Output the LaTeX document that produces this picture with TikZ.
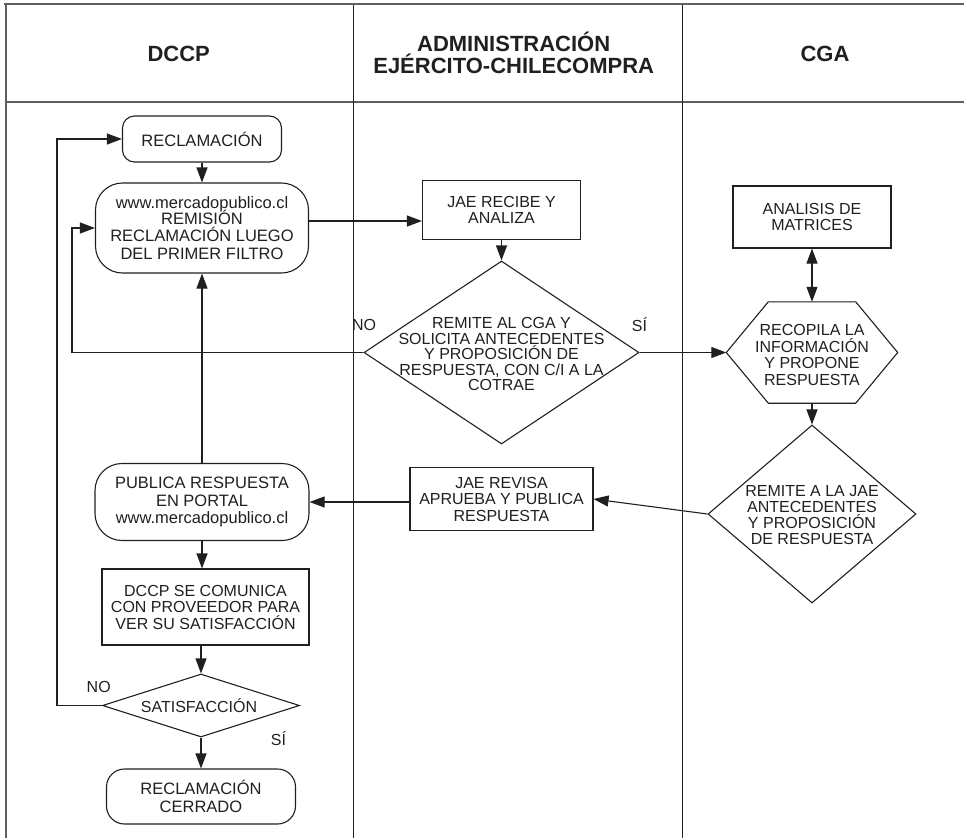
\documentclass[tikz,border=0pt]{standalone}
\usepackage{fontspec}
\setmainfont{Liberation Sans}
\usetikzlibrary{arrows.meta,shapes.geometric}
\definecolor{ink}{HTML}{231F20}
\definecolor{framegray}{HTML}{5F5F5F}
\begin{document}
\begin{tikzpicture}[x=1pt,y=-1pt,
  every node/.style={text=ink, inner sep=0pt},
  bodyfont/.style={font=\fontsize{16}{16.5}\selectfont},
  leftfont/.style={font=\fontsize{16.5}{17.5}\selectfont},
  box/.style={draw=ink, line width=1.1pt, fill=white, align=center, bodyfont},
  rbox/.style={box, leftfont, rounded corners=#1},
  dmd/.style={diamond, draw=ink, line width=1.1pt, fill=white, inner sep=0pt},
  arr/.style={draw=ink, line width=1.1pt, -{Triangle[length=15pt,width=11pt]}},
  dblarr/.style={draw=ink, line width=1.1pt, {Triangle[length=15pt,width=11pt]}-{Triangle[length=15pt,width=11pt]}},
  lbl/.style={font=\fontsize{16}{16}\selectfont},
  hdr/.style={font=\fontsize{22}{21.5}\selectfont\bfseries, align=center},
  framel/.style={draw=framegray, line width=2pt},
  divider/.style={draw=ink, line width=0.9pt}
]
\useasboundingbox (0,0) rectangle (964,838);

% frame
\draw[framel] (4,4) -- (964,4);
\draw[framel] (6,4) -- (6,838);
\draw[framel] (6,102) -- (964,102);
\draw[divider] (353,5) -- (353,838);
\draw[divider] (682,5) -- (682,838);

% headers
\node[hdr] (hd1) at (178.7,53.5) {DCCP};
\node[hdr] (hd2) at (513.7,53) {ADMINISTRACIÓN\\EJÉRCITO-CHILECOMPRA};
\node[hdr] (hd3) at (825,53.5) {CGA};

% helper coordinates
\coordinate (loopA) at (72,0);
\coordinate (loopB) at (57,0);
\coordinate (h1) at (0,221);

% left column
\node[rbox=12pt, minimum width=159pt, minimum height=46pt] (rec) at (202,139) {RECLAMACIÓN};
\node[rbox=27pt, minimum width=213pt, minimum height=90pt] (www) at (202,228)
  {www.mercadopublico.cl\\[-3pt]REMISIÓN\\RECLAMACIÓN LUEGO\\DEL PRIMER FILTRO};
\node[rbox=27pt, minimum width=214pt, minimum height=77pt] (pub) at (202,502)
  {PUBLICA RESPUESTA\\EN PORTAL\\www.mercadopublico.cl};
\node[box, minimum width=207pt, minimum height=76pt] (dccp) at (205.5,607)
  {DCCP SE COMUNICA\\CON PROVEEDOR PARA\\VER SU SATISFACCIÓN};
\node[dmd, minimum width=197pt, minimum height=63pt] (sat) at (201,705.5) {};
\node[bodyfont] (satt) at (199,705.5) {SATISFACCIÓN};
\node[rbox=18pt, minimum width=189pt, minimum height=55pt] (cerr) at (201,796.5)
  {RECLAMACIÓN\\CERRADO};

% middle column
\node[box, minimum width=158pt, minimum height=59pt] (jae1) at (501.5,210) {JAE RECIBE Y\\ANALIZA};
\node[dmd, minimum width=275pt, minimum height=183pt] (dia1) at (501.5,352.5) {};
\node[font=\fontsize{16}{15.5}\selectfont, align=center] (dia1t) at (501.5,354) 
  {REMITE AL CGA Y\\SOLICITA ANTECEDENTES\\Y PROPOSICIÓN DE\\RESPUESTA, CON C/I A LA\\COTRAE};
\node[box, minimum width=183pt, minimum height=63pt] (jae2) at (501.5,499)
  {JAE REVISA\\APRUEBA Y PUBLICA\\RESPUESTA};

% right column
\node[box, minimum width=158pt, minimum height=62pt] (mat) at (812,217) {ANALISIS DE\\MATRICES};
\node[minimum width=171pt, minimum height=101pt] (hex) at (812,352.5) {};
\draw[draw=ink, line width=1.1pt, fill=white]
  (hex.west) -- ([xshift=42pt]hex.north west) -- ([xshift=-42pt]hex.north east)
  -- (hex.east) -- ([xshift=-42pt]hex.south east) -- ([xshift=42pt]hex.south west) -- cycle;
\node[bodyfont, align=center] (hext) at (812,355) {RECOPILA LA\\INFORMACIÓN\\Y PROPONE\\RESPUESTA};
\node[dmd, minimum width=208pt, minimum height=178pt] (dia2) at (812,514) {};
\node[font=\fontsize{16}{16}\selectfont, align=center] (dia2t) at (812,515.5)
  {REMITE A LA JAE\\ANTECEDENTES\\Y PROPOSICIÓN\\DE RESPUESTA};

% labels
\node[lbl] (no1) at (364,325) {NO};
\node[lbl] (si1) at (639.5,325) {SÍ};
\node[lbl] (no2) at (98.7,687) {NO};
\node[lbl] (si2) at (278.5,739) {SÍ};

% connectors
\draw[arr] (rec) -- (www);
\draw[arr] (www.east |- h1) -- (jae1.west |- h1);
\draw[arr] (jae1) -- (dia1);
\draw[arr] (dia1.east) -- (hex.west);
\draw[arr] (dia1.west) -- (dia1.west -| loopA) |- (www.west);
\draw[dblarr] (mat) -- (hex);
\draw[arr] (hex) -- (dia2);
\draw[arr] (dia2.west) -- (jae2.east);
\draw[arr] (jae2.west |- pub.east) -- (pub.east);
\draw[arr] (pub) -- (www);
\draw[arr] (pub) -- (pub |- dccp.north);
\draw[arr] (sat |- dccp.south) -- (sat);
\draw[arr] (sat) -- (cerr);
\draw[arr] (sat.west) -- (sat.west -| loopB) |- (rec.west);
\end{tikzpicture}
\end{document}
